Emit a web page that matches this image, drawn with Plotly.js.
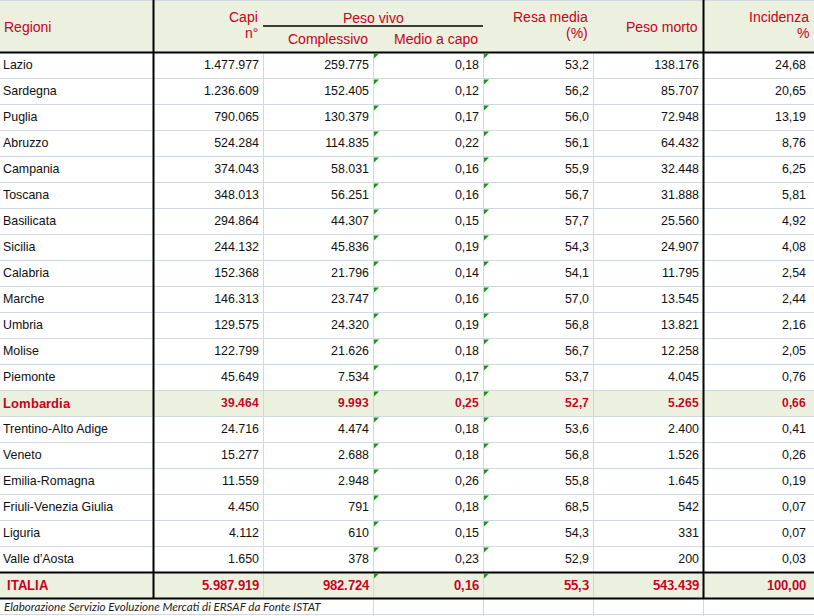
<!DOCTYPE html>
<html><head><meta charset="utf-8">
<script src="https://cdn.plot.ly/plotly-3.0.1.min.js"></script>
<style>
@font-face { font-family: "LSBold"; src: local("Liberation Sans Bold"), local("LiberationSans-Bold"); }
html,body{margin:0;padding:0;background:#fff;overflow:hidden;}
#chart{position:absolute;left:-5px;top:0;width:819px;height:616px;}
</style>
</head><body><div id="chart"></div>
<script>
// ---- data ----
const regioni = ["Lazio","Sardegna","Puglia","Abruzzo","Campania","Toscana","Basilicata","Sicilia","Calabria","Marche","Umbria","Molise","Piemonte","Lombardia","Trentino-Alto Adige","Veneto","Emilia-Romagna","Friuli-Venezia Giulia","Liguria","Valle d'Aosta","ITALIA"];
const capi = [1477977,1236609,790065,524284,374043,348013,294864,244132,152368,146313,129575,122799,45649,39464,24716,15277,11559,4450,4112,1650,5987919];
const pesoVivoComplessivo = [259775,152405,130379,114835,58031,56251,44307,45836,21796,23747,24320,21626,7534,9993,4474,2688,2948,791,610,378,982724];
const pesoVivoMedio = [0.18,0.12,0.17,0.22,0.16,0.16,0.15,0.19,0.14,0.16,0.19,0.18,0.17,0.25,0.18,0.18,0.26,0.18,0.15,0.23,0.16];
const resaMedia = [53.2,56.2,56.0,56.1,55.9,56.7,57.7,54.3,54.1,57.0,56.8,56.7,53.7,52.7,53.6,56.8,55.8,68.5,54.3,52.9,55.3];
const pesoMorto = [138176,85707,72948,64432,32448,31888,25560,24907,11795,13545,13821,12258,4045,5265,2400,1526,1645,542,331,200,543439];
const incidenza = [24.68,20.65,13.19,8.76,6.25,5.81,4.92,4.08,2.54,2.44,2.16,2.05,0.76,0.66,0.41,0.26,0.19,0.07,0.07,0.03,100.00];
const decimals = [0,0,2,1,0,2];
const headerLines = [["Regioni"],["Capi","n°"],["Complessivo"],["Medio a capo"],["Resa media","(%)"],["Peso morto"],["Incidenza","%"]];
const groupLabel = "Peso vivo";
const groupCols = [2,3];
const highlightRow = "Lombardia";
const totalRow = "ITALIA";
const fonte = "Elaborazione Servizio Evoluzione Mercati di ERSAF da Fonte ISTAT";

// ---- styling ----
const W = 814, H = 616;
const OFF = 5;                 // plot is drawn 5px to the left so cell padding matches the sheet
const PW = W + OFF;            // paper width
const colWidths = [153,110,110,110,110,110,111];     // visible grid columns
const headerH = 52, rowH = 26;
const RED = "#C8001E", GREEN_BG = "#EBF1DE", GRID = "#D0D7E5", TXT = "#101010";
const FONT = "Liberation Sans, Arial, sans-serif";
const BOLD = "LSBold, Liberation Sans, Arial, sans-serif";

function fmt(v, dec) {
  const s = v.toFixed(dec);
  const parts = s.split('.');
  const i = parts[0].replace(/\B(?=(\d{3})+(?!\d))/g, '.');
  return parts.length > 1 ? i + ',' + parts[1] : i;
}
const numericCols = [capi, pesoVivoComplessivo, pesoVivoMedio, resaMedia, pesoMorto, incidenza];
const rowKind = regioni.map(r => r === totalRow ? 2 : (r === highlightRow ? 1 : 0));
const cellValues = [regioni].concat(numericCols.map((col, c) => col.map(v => fmt(v, decimals[c]))));
const fills    = cellValues.map(() => rowKind.map(k => k ? GREEN_BG : "#FFFFFF"));
const fcolors  = cellValues.map(() => rowKind.map(k => k ? RED : TXT));
const ffam     = cellValues.map(() => rowKind.map(k => k ? BOLD : FONT));
const fsizes   = cellValues.map((col, c) => rowKind.map(k => k === 2 ? 13.3 : (k === 1 && c === 0 ? 13.3 : 12.4)));
const prefixes = cellValues.map((col, c) => rowKind.map(k => (k === 2 && c === 0) ? "\u00A0" : ""));
const aligns   = cellValues.map((col, c) => c === 0 ? "left" : "right");

// column edges of the visible grid (screen px)
const colEdges = [0];
colWidths.forEach(w => colEdges.push(colEdges[colEdges.length - 1] + w));
// table text columns (paper px) nudged so right padding matches the sheet
const textShift = 4;
const tableWidths = colWidths.map((w, c) => c === 0 ? w + OFF + textShift : (c === colWidths.length - 1 ? w - textShift : w));

const tableBottom = headerH + rowH * regioni.length;
const trace = {
  type: "table",
  domain: {x: [0, 1], y: [1 - tableBottom / H, 1]},
  columnwidth: tableWidths,
  header: {
    values: headerLines.map(() => ""),
    height: headerH,
    fill: {color: GREEN_BG},
    line: {color: "rgba(0,0,0,0)", width: 0},
    font: {family: FONT, size: 14, color: RED}
  },
  cells: {
    values: cellValues,
    prefix: prefixes,
    align: aligns,
    height: rowH,
    fill: {color: fills},
    line: {color: "rgba(0,0,0,0)", width: 0},
    font: {family: ffam, size: fsizes, color: fcolors}
  }
};

// screen pixel -> paper helpers
const px = x => (x + OFF) / PW, py = y => 1 - y / H;
const shapes = [];
function line(x0, y0, x1, y1, color, width) {
  shapes.push({type: "line", xref: "paper", yref: "paper", x0: px(x0), y0: py(y0), x1: px(x1), y1: py(y1), line: {color: color, width: width}});
}
// gray gridlines
line(0, 0.5, W, 0.5, GRID, 1);
for (let k = 1; k < regioni.length; k++) line(0, headerH + rowH * k + 0.5, W, headerH + rowH * k + 0.5, GRID, 1);
for (let c = 2; c < colEdges.length; c++) {
  if (c === 6) continue;
  line(colEdges[c] + 0.5, headerH, colEdges[c] + 0.5, tableBottom, GRID, 1);
}
// footer gridlines
for (let c = 3; c < colEdges.length; c++) line(colEdges[c] + 0.5, tableBottom, colEdges[c] + 0.5, H, GRID, 1);
line(0, H - 1.5, W, H - 1.5, GRID, 1);
// black borders
line(colEdges[1] + 0.5, 0, colEdges[1] + 0.5, tableBottom, "#000", 2);
line(colEdges[6] + 0.5, 0, colEdges[6] + 0.5, tableBottom, "#000", 2);
line(0, headerH + 0.5, W, headerH + 0.5, "#000", 2);
line(0, tableBottom - rowH + 0.5, W, tableBottom - rowH + 0.5, "#000", 2);
line(0, tableBottom + 0.5, W, tableBottom + 0.5, "#000", 2);
// "Peso vivo" underline
line(colEdges[groupCols[0]], 26, colEdges[groupCols[1] + 1], 26, "#000", 1.5);
// small green indicator triangles
for (let k = 0; k < regioni.length; k++) {
  [3, 4].forEach(c => {
    const x0 = colEdges[c] + 1, y0 = headerH + rowH * k + 1.5, s = 5;
    shapes.push({type: "path", xref: "paper", yref: "paper",
      path: `M ${px(x0)} ${py(y0)} L ${px(x0 + s)} ${py(y0)} L ${px(x0)} ${py(y0 + s)} Z`,
      fillcolor: "#1F8F1F", line: {width: 0}});
  });
}

// header labels
const annotations = [];
headerLines.forEach((lines, c) => {
  const left = c === 0;
  const x = left ? colEdges[c] + 2 : colEdges[c + 1] - 3;
  let ys;
  if (groupCols.includes(c)) ys = [39];
  else if (lines.length === 2) ys = [17, 33];
  else ys = [27];
  lines.forEach((t, i) => annotations.push({
    xref: "paper", yref: "paper", x: px(x), y: py(ys[i]), text: t, showarrow: false,
    xanchor: left ? "left" : "right", yanchor: "middle",
    font: {family: FONT, size: 14, color: RED}
  }));
});
annotations.push({xref: "paper", yref: "paper", x: px((colEdges[groupCols[0]] + colEdges[groupCols[1] + 1]) / 2), y: py(18),
  text: groupLabel, showarrow: false, xanchor: "center", yanchor: "middle", font: {family: FONT, size: 14, color: RED}});
annotations.push({xref: "paper", yref: "paper", x: px(2), y: py(606), text: "<i>" + fonte + "</i>",
  showarrow: false, xanchor: "left", yanchor: "middle", font: {family: "Lato, Noto Sans, sans-serif", size: 11.6, color: "#222"}});

Plotly.newPlot("chart", [trace], {
  width: PW, height: H,
  margin: {l: 0, r: 0, t: 0, b: 0},
  paper_bgcolor: "#FFFFFF",
  shapes: shapes,
  annotations: annotations
}, {displayModeBar: false, staticPlot: true});
</script>
</body></html>
